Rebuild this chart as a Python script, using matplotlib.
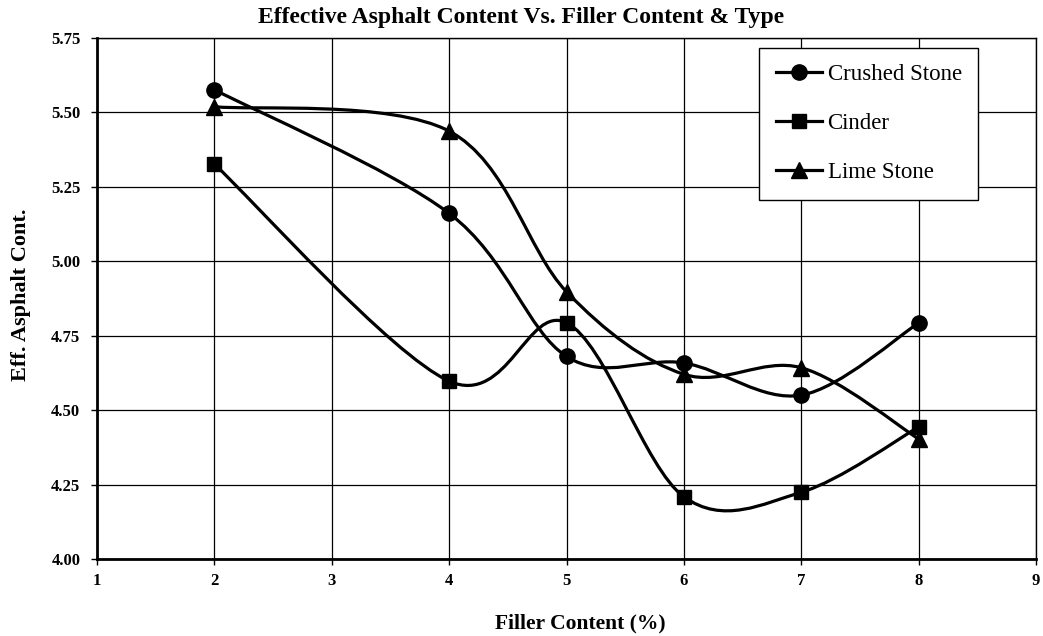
import matplotlib
matplotlib.use("Agg")
import matplotlib.pyplot as plt
from matplotlib.path import Path
from matplotlib.patches import PathPatch
from matplotlib.lines import Line2D
import numpy as np

filler = [2, 4, 5, 6, 7, 8]
crushed_stone = [5.575, 5.16, 4.68, 4.658, 4.55, 4.792]
cinder = [5.325, 4.597, 4.793, 4.209, 4.224, 4.443]
lime_stone = [5.518, 5.436, 4.897, 4.62, 4.642, 4.403]
series_names = ["Crushed Stone", "Cinder", "Lime Stone"]
markers = ["o", "s", "^"]
x_ticks = [1, 2, 3, 4, 5, 6, 7, 8, 9]
y_ticks = [4.00, 4.25, 4.50, 4.75, 5.00, 5.25, 5.50, 5.75]

plt.rcParams['font.family'] = ['Liberation Serif', 'DejaVu Serif']

fig = plt.figure(figsize=(10.43, 6.36), dpi=100)
ax = fig.add_axes([0.093, 0.121, 0.9003, 0.820])


def smooth_path(xs, ys):
    pts = np.column_stack([xs, ys]).astype(float)
    n = len(pts)
    verts = [pts[0]]
    codes = [Path.MOVETO]
    for i in range(n - 1):
        p0 = pts[i - 1] if i > 0 else pts[i]
        p1 = pts[i]
        p2 = pts[i + 1]
        p3 = pts[i + 2] if i + 2 < n else pts[i + 1]
        c1 = p1 + (p2 - p0) / 6.0
        c2 = p2 - (p3 - p1) / 6.0
        verts += [c1, c2, p2]
        codes += [Path.CURVE4] * 3
    return Path(verts, codes)


msizes = {'o': 11, 's': 10, '^': 11.5}
for name, ys, m in zip(series_names, [crushed_stone, cinder, lime_stone], markers):
    patch = PathPatch(smooth_path(filler, ys), facecolor='none', edgecolor='black',
                      lw=2.3, zorder=3)
    ax.add_patch(patch)
    ax.plot(filler, ys, linestyle='none', marker=m, color='black',
            markersize=msizes[m], zorder=4)

ax.set_xlim(1, 9)
ax.set_ylim(4.0, 5.75)
ax.set_xticks(x_ticks)
ax.set_yticks(y_ticks)
ax.set_xticklabels([str(v) for v in x_ticks], fontweight='bold', fontsize=12)
ax.set_yticklabels([f"{v:.2f}" for v in y_ticks], fontweight='bold', fontsize=12)
ax.grid(True, color='black', lw=0.9)
ax.set_axisbelow(True)
ax.tick_params(direction='out', length=4, width=1, colors='black', pad=6)
ax.tick_params(axis='y', pad=8)
for side in ['left', 'bottom']:
    ax.spines[side].set_linewidth(2)
for side in ['top', 'right']:
    ax.spines[side].set_linewidth(1)

fig.text(0.5, 1 - 23 / 636, "Effective Asphalt Content Vs. Filler Content & Type",
         fontweight='bold', fontsize=17, ha='center', va='baseline')
ax.set_xlabel("Filler Content (%)", fontweight='bold', fontsize=15.5)
ax.xaxis.set_label_coords(0.515, -0.1323)
ax.xaxis.label.set_va('baseline')
ax.set_ylabel("Eff. Asphalt Cont.", fontweight='bold', fontsize=16)
ax.yaxis.set_label_coords(-0.0805, 0.507)
ax.yaxis.label.set_va('center')

handles = [Line2D([], [], color='black', lw=2.3, marker=m, markersize=msizes[m])
           for m in markers]
leg = ax.legend(handles, series_names, loc='upper left',
                bbox_to_anchor=(0.705, 0.980), fontsize=16.5, frameon=True,
                fancybox=False, edgecolor='black', framealpha=1,
                handlelength=2.05, labelspacing=1.22, borderpad=0.72,
                handletextpad=0.22, borderaxespad=0)
leg.get_frame().set_linewidth(1)

fig.savefig("out.png", dpi=100)
